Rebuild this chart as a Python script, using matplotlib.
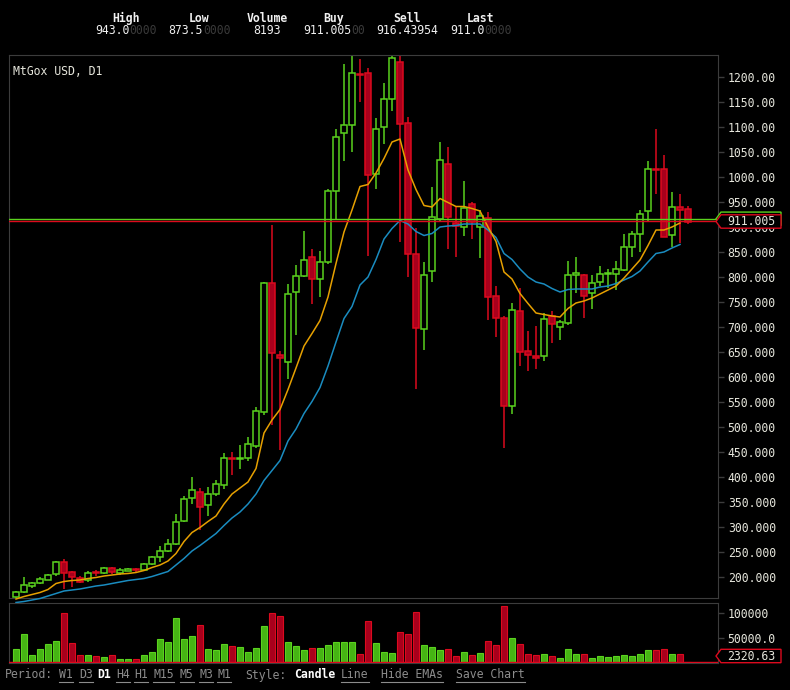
import matplotlib
matplotlib.use('Agg')
import matplotlib.pyplot as plt
import numpy as np
from matplotlib.lines import Line2D
from matplotlib.patches import Polygon

# daily candles, MtGox USD
opens = [161, 170, 183, 189, 195, 207, 231, 210, 199, 194, 209, 209, 218, 208, 213, 216, 215, 227, 241, 253,
         267, 313, 358, 370, 344, 366, 384, 439, 436, 438, 462, 530, 788, 645, 631, 771, 803, 841, 797, 831,
         972, 1089, 1104, 1207, 1208, 1007, 1101, 1157, 1231, 1109, 847, 696, 813, 917, 1027, 909, 901, 946, 901, 918,
         763, 719, 543, 733, 652, 643, 642, 722, 700, 709, 805, 805, 769, 790, 806, 807, 815, 861, 887, 932,
         1017, 1016, 885, 940, 937]
highs = [173, 200, 190, 200, 207, 232, 236, 212, 202, 212, 214, 220, 221, 218, 218, 219, 228, 243, 262, 276,
         327, 362, 400, 378, 381, 395, 449, 451, 464, 480, 541, 790, 904, 652, 787, 824, 892, 857, 852, 977,
         1096, 1226, 1242, 1236, 1218, 1119, 1188, 1242, 1242, 1121, 898, 831, 981, 1070, 1060, 943, 993, 951, 934, 930,
         782, 722, 748, 778, 692, 703, 729, 733, 714, 832, 840, 807, 805, 822, 816, 832, 887, 892, 934, 1032,
         1096, 1045, 970, 967, 943]
lows = [159, 168, 179, 186, 195, 203, 177, 180, 188, 190, 202, 206, 206, 205, 212, 211, 214, 225, 231, 251,
        265, 311, 346, 295, 322, 362, 376, 405, 416, 433, 459, 524, 504, 454, 597, 684, 801, 747, 761, 827,
        914, 1033, 1050, 1151, 842, 977, 1066, 1133, 871, 801, 577, 655, 790, 913, 857, 841, 883, 876, 839, 715,
        681, 458, 526, 622, 612, 617, 632, 669, 674, 705, 769, 718, 737, 782, 778, 774, 813, 841, 851, 912,
        966, 880, 860, 868, 906]
closes = [171, 185, 189, 196, 205, 231, 209, 201, 191, 209, 208, 219, 211, 214, 216, 215, 227, 241, 253, 267,
          311, 357, 374, 341, 367, 386, 439, 437, 439, 467, 533, 788, 648, 639, 767, 803, 835, 797, 831, 972,
          1081, 1104, 1208, 1205, 1005, 1097, 1157, 1239, 1107, 847, 699, 805, 921, 1035, 921, 902, 939, 911, 922, 760,
          718, 543, 734, 651, 644, 638, 716, 706, 710, 804, 809, 763, 788, 807, 808, 817, 860, 887, 927, 1017,
          1015, 881, 941, 935, 911]
volumes = [28000, 58000, 16000, 28000, 38000, 44000, 100000, 40000, 16000, 16000, 14000, 12000, 16000, 8000, 8000,
           8000, 16000, 22000, 48000, 42000, 90000, 48000, 54000, 77000, 28000, 26000, 39000, 34000, 32000, 22000,
           30000, 75000, 101000, 95000, 42000, 34000, 26000, 30000, 30000, 36000, 42000, 42000, 42000, 18000, 84000,
           40000, 22000, 20000, 62000, 58000, 102000, 36000, 32000, 26000, 28000, 14000, 22000, 16000, 20000, 44000,
           36000, 114000, 50000, 38000, 18000, 16000, 18000, 14000, 10000, 28000, 18000, 18000, 10000, 14000, 12000,
           14000, 16000, 14000, 18000, 26000, 26000, 28000, 18000, 18000, 2320.63]
# moving averages as drawn on the chart
ema_fast = [156, 161, 165, 169, 175, 187, 191, 193, 194, 197, 199, 202, 204, 206, 207, 209, 213, 219, 224, 232,
            247, 271, 289, 299, 311, 322, 346, 366, 378, 390, 417, 488, 514, 535, 575, 618, 662, 687, 713, 760,
            827, 890, 934, 981, 985, 1008, 1037, 1070, 1076, 1014, 975, 943, 940, 957, 949, 941, 941, 937, 932, 900,
            871, 810, 796, 767, 747, 728, 725, 722, 720, 737, 748, 752, 758, 766, 774, 782, 798, 816, 834, 863,
            894, 894, 900, 908]
ema_slow = [149, 151, 154, 157, 162, 167, 172, 174, 176, 179, 182, 184, 187, 190, 193, 195, 197, 201, 206, 211,
            224, 237, 252, 263, 275, 287, 303, 318, 330, 346, 366, 393, 413, 433, 472, 496, 527, 551, 579, 622,
            670, 717, 741, 784, 800, 835, 876, 897, 913, 906, 891, 883, 887, 900, 902, 903, 906, 906, 906, 894,
            879, 847, 835, 816, 800, 790, 786, 777, 770, 775, 776, 776, 776, 780, 782, 787, 794, 801, 812, 830,
            847, 850, 858, 865]

buy_price = 911.005
sell_price = 916.43954
price_ticks = list(range(200, 1201, 50))
vol_ticks = [50000, 100000]
vol_tick_labels = ['50000.0', '100000']
header_names = ['High', 'Low', 'Volume', 'Buy', 'Sell', 'Last']
header_bright = ['943.0', '873.5', '8193', '911.005', '916.43954', '911.0']
header_dim = ['0000', '0000', '', '00', '', '0000']

GREEN = '#5ad21e'
RED = '#dc0a1e'
RED_FILL = '#a8001c'
VOL_GREEN = '#46b414'
BORDER = '#3c3c3c'
TEXT = '#e6e6dc'
GREY = '#8c8c8c'
ORANGE = '#e6a000'
BLUE = '#1a8cc0'
FS = 8.3

W, H = 790, 690


def fx(x):
    return x / W


def fy(y):
    return 1 - y / H


def ax_x(px):
    # pixel column -> axes fraction of the chart panels (9..718)
    return (px - 9) / 709


def tag(ax, value, edge, label=None, center=None, z=10):
    """price tag with a pointer on the right side of a panel"""
    y0, y1 = ax.get_ylim()
    upp = (y1 - y0) / ax.bbox.height
    h = 6.7 * upp
    c = value if center is None else center
    pts = [(ax_x(716), c), (ax_x(721), c + h), (ax_x(781), c + h), (ax_x(781), c - h), (ax_x(721), c - h)]
    ax.add_patch(Polygon(pts, closed=True, transform=ax.get_yaxis_transform(), facecolor='black',
                         edgecolor=edge, lw=1, zorder=z, clip_on=False))
    if label:
        ax.text(ax_x(751), c, label, transform=ax.get_yaxis_transform(), ha='center', va='center',
                color=TEXT, fontsize=FS, zorder=z + 1, clip_on=False)


def style_axis(ax):
    ax.set_facecolor('black')
    for s in ax.spines.values():
        s.set_color(BORDER)
    ax.yaxis.tick_right()
    ax.tick_params(axis='y', colors=BORDER, labelcolor=TEXT, length=4, width=1, pad=3, labelsize=FS)
    ax.tick_params(axis='x', bottom=False, labelbottom=False)


plt.rcParams['font.family'] = ['DejaVu Sans Mono']

fig = plt.figure(figsize=(7.9, 6.9), dpi=100, facecolor='black')
ax = fig.add_axes([fx(9), fy(598), fx(718) - fx(9), fy(55) - fy(598)])
axv = fig.add_axes([fx(9), fy(663), fx(718) - fx(9), fy(603) - fy(663)])
renderer = fig.canvas.get_renderer()

o = np.array(opens, float)
c = np.array(closes, float)
hi = np.array(highs, float)
lo = np.array(lows, float)
idx = np.arange(len(o))
up = c >= o
bottom = np.minimum(o, c)
height = np.maximum(np.abs(c - o), 1.5)

# candles
ax.vlines(idx[up], lo[up], hi[up], color=GREEN, lw=1.1, zorder=2)
ax.vlines(idx[~up], lo[~up], hi[~up], color=RED, lw=1.1, zorder=2)
ax.bar(idx[up], height[up], bottom=bottom[up], width=0.66, facecolor='black', edgecolor=GREEN, lw=1.1, zorder=3)
ax.bar(idx[~up], height[~up], bottom=bottom[~up], width=0.66, facecolor=RED_FILL, edgecolor=RED, lw=1.1, zorder=3)

# EMAs
ax.plot(np.arange(len(ema_slow)), ema_slow, color=BLUE, lw=1.1, zorder=4, clip_on=False)
ax.plot(np.arange(len(ema_fast)), ema_fast, color=ORANGE, lw=1.1, zorder=4, clip_on=False)

# buy / sell lines
ax.axhline(sell_price, color=GREEN, lw=1, zorder=5)
ax.axhline(buy_price, color=RED, lw=1, zorder=5)

ax.set_xlim(-0.875, 87.75)
ax.set_ylim(158, 1244)
ax.set_yticks(price_ticks)
ax.set_yticklabels([f'{v:.2f}' if v >= 1000 else f'{v:.3f}' for v in price_ticks])
style_axis(ax)
ax.text(0.006, 0.982, 'MtGox USD, D1', transform=ax.transAxes, ha='left', va='top', color=TEXT, fontsize=FS)

tag(ax, sell_price, GREEN, z=10)
tag(ax, buy_price, RED, label=f'{buy_price:.3f}', z=12)

# volume panel
vol = np.array(volumes, float)
axv.bar(idx[up], vol[up], width=0.78, facecolor=VOL_GREEN, edgecolor=GREEN, lw=0.8, zorder=3)
axv.bar(idx[~up], vol[~up], width=0.78, facecolor=RED_FILL, edgecolor=RED, lw=0.8, zorder=3)
axv.axhline(vol[-1], color=RED, lw=1, zorder=4)
axv.set_xlim(-0.875, 87.75)
axv.set_ylim(0, 120000)
axv.set_yticks(vol_ticks)
axv.set_yticklabels(vol_tick_labels)
style_axis(axv)
tag(axv, vol[-1], RED, label=f'{vol[-1]:.2f}', center=14000, z=10)

# width of one monospace character in pixels
probe = fig.text(0, 0, '0' * 20, fontsize=FS)
cw = probe.get_window_extent(renderer).width / 20
probe.remove()

# header with ticker values
col_centers = [126, 199.5, 267, 334, 407, 481]
for name, cx in zip(header_names, col_centers):
    fig.text(fx(cx), fy(18.5), name, ha='center', va='center', color='#f0f0f0', fontsize=FS, fontweight='bold')
for bright, dim, cx in zip(header_bright, header_dim, col_centers):
    x0 = cx - cw * len(bright + dim) / 2
    fig.text(fx(x0), fy(30.5), bright, ha='left', va='center', color='#f0f0f0', fontsize=FS)
    if dim:
        fig.text(fx(x0 + cw * len(bright)), fy(30.5), dim, ha='left', va='center', color='#3a3a3a', fontsize=FS)

# bottom menu
menu = [('Period:', 5, GREY, False, False), ('W1', 59, GREY, False, True), ('D3', 79, GREY, False, True),
        ('D1', 97, '#ffffff', True, False), ('H4', 116, GREY, False, True), ('H1', 134, GREY, False, True),
        ('M15', 153, GREY, False, True), ('M5', 180, GREY, False, True), ('M3', 199, GREY, False, True),
        ('M1', 217, GREY, False, True), ('Style:', 245, GREY, False, False), ('Candle', 294, '#ffffff', True, False),
        ('Line', 341, GREY, False, True), ('Hide EMAs', 381, GREY, False, True), ('Save Chart', 456, GREY, False, True)]
for word, x0, col, bold, under in menu:
    t = fig.text(fx(x0), fy(675), word, ha='left', va='center', color=col, fontsize=FS,
                 fontweight='bold' if bold else 'normal')
    if under:
        bb = t.get_window_extent(renderer)
        fig.add_artist(Line2D([fx(bb.x0), fx(bb.x1)], [fy(682), fy(682)], transform=fig.transFigure,
                              color=col, lw=0.8))

fig.savefig('out.png', dpi=100, facecolor='black')
